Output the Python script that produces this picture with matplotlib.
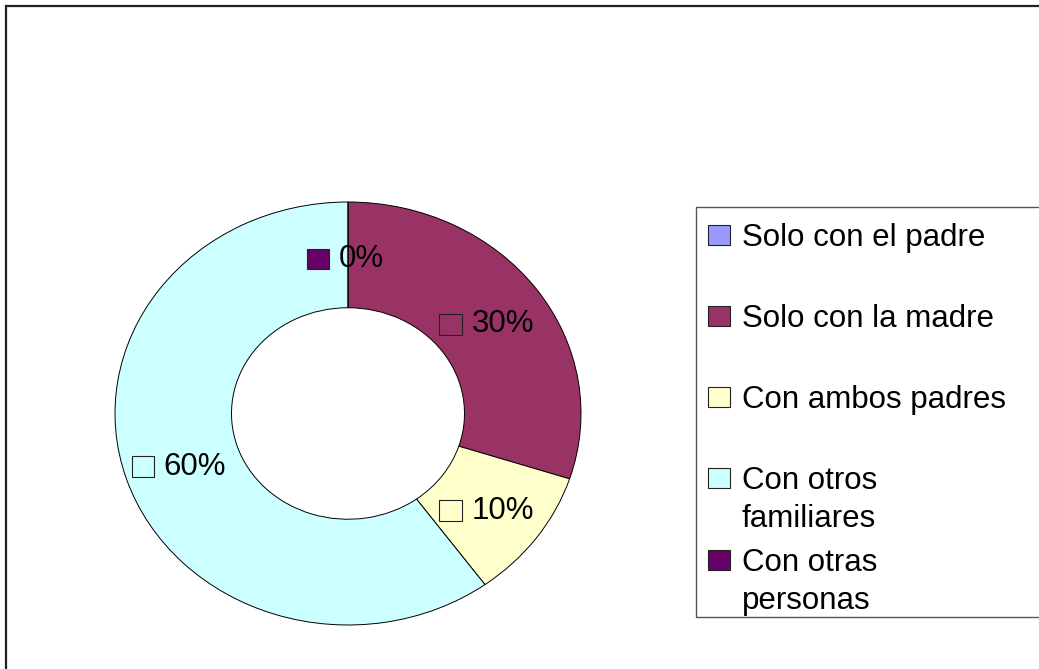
import numpy as np
import matplotlib.pyplot as plt
from matplotlib.patches import Rectangle
from matplotlib.offsetbox import AnnotationBbox, DrawingArea, HPacker, TextArea

plt.rcParams['font.family'] = ['Liberation Sans', 'DejaVu Sans']

# data
categories = ["Solo con el padre", "Solo con la madre", "Con ambos padres",
              "Con otros\nfamiliares", "Con otras\npersonas"]
values = [0, 30, 10, 60, 0]
colors = ["#9999FF", "#993366", "#FFFFCC", "#CCFFFF", "#660066"]
show_label = [False, True, True, True, True]

W, H = 1039, 669
FS = 22.5


def fx(x):
    return x / W


def fy(y):
    return 1 - y / H


fig = plt.figure(figsize=(W / 100, H / 100), dpi=100)

# outer chart frame
fig.patches.append(Rectangle((fx(6), fy(680)), fx(1050) - fx(6), fy(6) - fy(680),
                             transform=fig.transFigure, fill=False,
                             edgecolor="#222222", linewidth=1.6))

# donut, stretched into the ellipse of the original
left, right, top, bottom = 115, 581, 202, 625
ax = fig.add_axes([fx(left), fy(bottom), fx(right - left), fy(top) - fy(bottom)])
wedges, _ = ax.pie(values, colors=colors, startangle=90, counterclock=False,
                   radius=1, wedgeprops=dict(width=0.5, edgecolor="black", linewidth=0.7))
for w in wedges:
    w.set_clip_on(False)
ax.set_aspect('auto')
ax.set_xlim(-1, 1)
ax.set_ylim(-1, 1)
ax.axis('off')

# data labels: coloured key + percentage, in the middle of the ring
total = sum(values)
cum = 0
for val, col, show in zip(values, colors, show_label):
    mid = 90 - (cum + val / 2) / total * 360
    cum += val
    if not show:
        continue
    ang = np.deg2rad(mid)
    da = DrawingArea(16, 15, 0, 0)
    da.add_artist(Rectangle((0, 0), 16, 15, facecolor=col, edgecolor="#222222", linewidth=0.8))
    ta = TextArea(f"{val / total:.0%}", textprops=dict(fontsize=FS, color="black"))
    box = HPacker(children=[da, ta], sep=7, align="center", pad=0)
    ab = AnnotationBbox(box, (0.75 * np.cos(ang), 0.75 * np.sin(ang)), xycoords="data",
                        xybox=(-2, -3), boxcoords="offset points",
                        box_alignment=(0.5, 0.5), frameon=False, pad=0)
    ab.set_clip_on(False)
    ax.add_artist(ab)

# legend box
fig.patches.append(Rectangle((fx(696), fy(617)), fx(1050) - fx(696), fy(207) - fy(617),
                             transform=fig.transFigure, fill=False,
                             edgecolor="#555555", linewidth=1.0))
row_y = [235, 316, 397, 478, 560]
for lab, col, yc in zip(categories, colors, row_y):
    fig.patches.append(Rectangle((fx(708), fy(yc + 10)), fx(22), fy(0) - fy(20),
                                 transform=fig.transFigure, facecolor=col,
                                 edgecolor="#222222", linewidth=0.8))
    for i, line in enumerate(lab.split("\n")):
        fig.text(fx(742), fy(yc + 11 + 38 * i), line, fontsize=FS,
                 ha="left", va="baseline")

fig.savefig("out.png", dpi=100)
